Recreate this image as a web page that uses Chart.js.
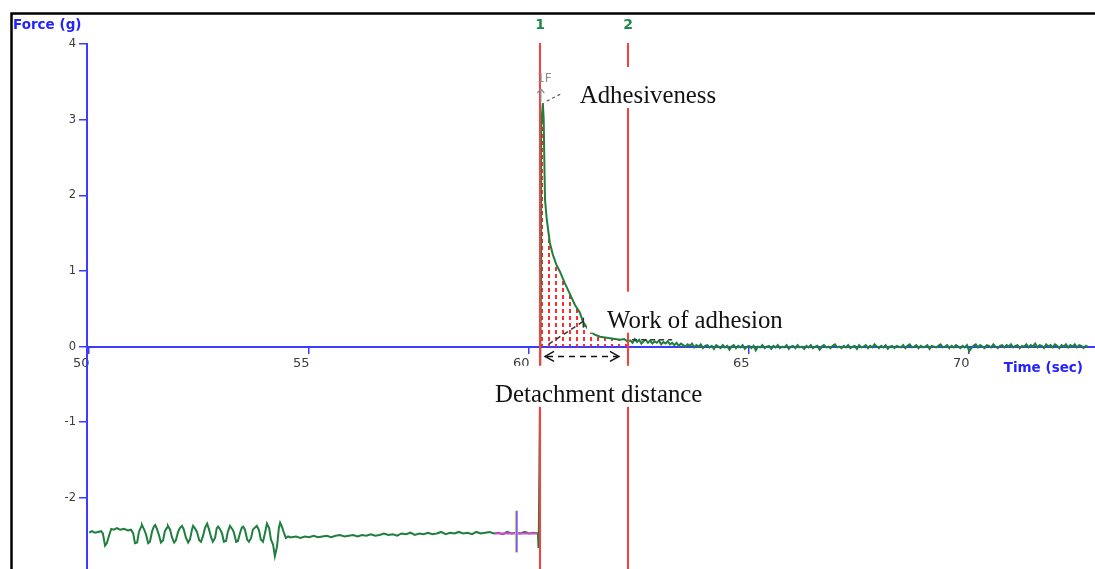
<!DOCTYPE html>
<html>
<head>
<meta charset="utf-8">
<script src="https://cdn.jsdelivr.net/npm/chart.js@4.4.1/dist/chart.umd.min.js"></script>
<style>
  html, body { margin: 0; padding: 0; background: #fff; overflow: hidden; }
  canvas { display: block; }
</style>
</head>
<body>
<canvas id="c" width="1095" height="569"></canvas>
<script>
// Probe tack test: force (g) against time (sec)

// Contact phase with the probe pressing on the sample (irregular vertices)
const oscTimes = [
  50.00, 50.06, 50.13, 50.20, 50.27, 50.31, 50.36, 50.40, 50.45, 50.50,
  50.56, 50.63, 50.70, 50.79, 50.88, 50.95, 51.00, 51.04, 51.09, 51.13,
  51.18, 51.20, 51.25, 51.29, 51.34, 51.38, 51.43, 51.47, 51.50, 51.54,
  51.59, 51.63, 51.68, 51.72, 51.77, 51.79, 51.84, 51.88, 51.93, 51.97,
  52.02, 52.06, 52.11, 52.15, 52.20, 52.25, 52.29, 52.34, 52.36, 52.40,
  52.45, 52.50, 52.54, 52.59, 52.63, 52.68, 52.72, 52.77, 52.81, 52.86,
  52.90, 52.93, 52.97, 53.02, 53.06, 53.11, 53.15, 53.20, 53.25, 53.29,
  53.34, 53.38, 53.43, 53.47, 53.50, 53.54, 53.59, 53.63, 53.68, 53.72,
  53.77, 53.81, 53.86, 53.90, 53.95, 54.00, 54.04, 54.09, 54.13, 54.18,
  54.22, 54.27, 54.31, 54.34, 54.38, 54.43, 54.47, 54.52, 54.56
];
const oscForce = [
  -2.46, -2.44, -2.46, -2.45, -2.44, -2.47, -2.63, -2.60, -2.50, -2.41,
  -2.42, -2.40, -2.42, -2.41, -2.43, -2.42, -2.47, -2.60, -2.59, -2.45,
  -2.38, -2.36, -2.42, -2.48, -2.60, -2.58, -2.44, -2.38, -2.36, -2.41,
  -2.50, -2.59, -2.56, -2.44, -2.39, -2.37, -2.42, -2.52, -2.59, -2.56,
  -2.45, -2.40, -2.37, -2.42, -2.53, -2.59, -2.55, -2.41, -2.37, -2.40,
  -2.45, -2.56, -2.58, -2.50, -2.40, -2.34, -2.41, -2.52, -2.58, -2.53,
  -2.40, -2.38, -2.41, -2.47, -2.58, -2.57, -2.45, -2.37, -2.41, -2.46,
  -2.58, -2.57, -2.46, -2.39, -2.38, -2.42, -2.55, -2.58, -2.53, -2.42,
  -2.39, -2.37, -2.43, -2.55, -2.58, -2.45, -2.34, -2.40, -2.55, -2.62,
  -2.77, -2.64, -2.40, -2.33, -2.38, -2.47, -2.53, -2.51, -2.52
];

// Hold phase, sampled every 0.1 s
const holdStart = 54.6;
const holdStep = 0.1;
const holdForce = [
  -2.52, -2.51, -2.53, -2.51, -2.52, -2.50, -2.52, -2.51, -2.50, -2.52,
  -2.50, -2.49, -2.51, -2.50, -2.49, -2.51, -2.49, -2.50, -2.48, -2.50,
  -2.49, -2.47, -2.49, -2.48, -2.50, -2.47, -2.48, -2.46, -2.49, -2.47,
  -2.48, -2.46, -2.48, -2.47, -2.45, -2.48, -2.46, -2.47, -2.45, -2.47,
  -2.46, -2.48, -2.45, -2.47, -2.46, -2.45, -2.47, -2.46, -2.48, -2.45,
  -2.47, -2.46, -2.47, -2.45, -2.47, -2.46, -2.47
];

// Withdrawal: peak and decay of the adhesive force
const releaseTimes = [
  60.21, 60.22, 60.27, 60.27, 60.31, 60.33, 60.34, 60.36, 60.40, 60.47,
  60.54, 60.62, 60.70, 60.81, 60.93, 61.04, 61.15, 61.22, 61.35, 61.48,
  61.61, 61.72, 61.84, 61.95, 62.07, 62.16, 62.23
];
const releaseForce = [
  -2.65, -2.40, 1.00, 2.90, 3.22, 3.00, 2.60, 1.94, 1.68, 1.37,
  1.21, 1.08, 0.99, 0.84, 0.69, 0.55, 0.45, 0.33, 0.22, 0.16,
  0.13, 0.12, 0.11, 0.10, 0.09, 0.10, 0.07
];

// Residual signal after detachment, sampled every 0.05 s
const tailStart = 62.3;
const tailStep = 0.05;
const tailForce = [
  0.08, 0.05, 0.10, 0.06, 0.09, 0.04, 0.07, 0.09, 0.05, 0.08,
  0.04, 0.07, 0.05, 0.08, 0.03, 0.06, 0.04, 0.07, 0.03, 0.05,
  0.02, 0.05, 0.01, 0.04, 0.02, 0.00, 0.03, 0.01, 0.04, -0.01,
  0.02, 0.00, 0.03, -0.02, 0.01, 0.02, -0.01, 0.01, -0.03, 0.02,
  0.00, -0.02, 0.02, -0.01, 0.01, -0.04, 0.00, 0.02, -0.02, 0.01,
  -0.01, 0.02, -0.03, 0.00, 0.01, -0.02, 0.01, -0.05, 0.00, -0.01,
  0.02, -0.02, 0.00, 0.01, -0.03, 0.01, -0.01, 0.02, -0.02, 0.00,
  -0.01, 0.02, -0.03, 0.00, 0.01, -0.02, 0.02, -0.01, 0.00, -0.03,
  0.01, -0.01, 0.02, -0.02, 0.00, 0.01, -0.04, 0.00, 0.02, -0.01,
  0.00, -0.02, 0.01, 0.03, -0.01, 0.00, -0.02, 0.01, -0.01, 0.02,
  -0.02, 0.00, 0.01, -0.03, 0.02, -0.01, 0.00, 0.02, -0.02, 0.01,
  -0.01, 0.03, 0.00, -0.02, 0.01, -0.01, 0.02, -0.03, 0.00, 0.01,
  -0.02, 0.01, 0.00, -0.01, 0.02, -0.02, 0.01, 0.03, -0.01, 0.00,
  0.02, -0.02, 0.01, -0.01, 0.00, 0.02, -0.03, 0.01, 0.00, -0.01,
  0.01, 0.03, -0.01, 0.00, 0.02, -0.02, 0.01, -0.01, 0.02, 0.00,
  -0.02, 0.01, -0.01, 0.02, -0.06, -0.02, 0.01, 0.03, -0.01, 0.02,
  0.00, -0.02, 0.02, 0.01, -0.01, 0.03, 0.00, -0.02, 0.01, 0.02,
  -0.01, 0.02, 0.00, 0.03, -0.01, 0.01, 0.02, -0.02, 0.01, 0.00,
  0.03, -0.01, 0.02, 0.00, 0.04, -0.01, 0.02, 0.01, -0.02, 0.03,
  0.00, 0.02, -0.01, 0.03, 0.01, -0.02, 0.02, 0.00, 0.03, -0.01,
  0.02, 0.00, 0.03, -0.01, 0.02, 0.01, -0.02, 0.01, 0.00
];

// Cursors bounding the work-of-adhesion area
const cursorTimes = [60.24, 62.24];
const cursorLabels = ['1', '2'];

// Crosshair cursor on the hold segment: time span, centre, force span
const crossTimes = [59.22, 59.70, 60.18];
const crossForces = [-2.17, -2.46, -2.72];

// Axes
const xTicks = [50, 55, 60, 65, 70];
const yTicks = [4, 3, 2, 1, 0, -1, -2];
const xRange = [49.95, 72.86];
const yRange = [-2.94, 4];
const xTitle = 'Time (sec)';
const yTitle = 'Force (g)';

// Annotation texts, anchored in data units (time, force)
const notes = [
  { text: 'Adhesiveness', t: 61.15, f: 3.22, align: 'left', padLeft: 7 },
  { text: 'Work of adhesion', t: 61.77, f: 0.25, align: 'left', padLeft: 20 },
  { text: 'Detachment distance', t: 61.58, f: -0.73, align: 'center', padLeft: 7 }
];
const distanceArrow = { from: 60.36, to: 62.04, f: -0.13 };
const workLeader = { from: [61.22, 0.33], to: [60.36, 0.0] };
const tailMarks = { from: 62.34, to: 63.25, f: 0.09 };
const peakLabel = '1F';

const seq = (start, step, values) => values.map((v, i) => ({ x: +(start + i * step).toFixed(3), y: v }));
const pairs = (ts, vs) => ts.map((t, i) => ({ x: t, y: vs[i] }));

const trace = [
  ...pairs(oscTimes, oscForce),
  ...seq(holdStart, holdStep, holdForce),
  ...pairs(releaseTimes, releaseForce),
  ...seq(tailStart, tailStep, tailForce)
];
const workArea = trace.filter(p => p.x >= cursorTimes[0] && p.x <= cursorTimes[1]);

const canvas = document.getElementById('c');
const mainCtx = canvas.getContext('2d');

// Red dotted hatch for the integrated area
function makeHatch() {
  const tile = document.createElement('canvas');
  tile.width = 7; tile.height = 7;
  const g = tile.getContext('2d');
  g.fillStyle = '#ff2d2d';
  g.fillRect(2, 1, 2, 4);
  return mainCtx.createPattern(tile, 'repeat');
}

const GREEN = '#1e7f3e';
const BLUE = '#3c3cff';
const RED = '#ff3c3c';
const SERIF = '"Liberation Serif", "Times New Roman", serif';
const SANS = '"DejaVu Sans", sans-serif';

const overlay = {
  id: 'overlay',
  beforeDraw(chart) {
    const { ctx, width, height } = chart;
    ctx.save();
    ctx.fillStyle = '#fff';
    ctx.fillRect(0, 0, width, height);
    ctx.restore();
  },
  afterDatasetsDraw(chart) {
    const { ctx, chartArea: a, scales: { x, y } } = chart;
    const px = t => x.getPixelForValue(t);
    const py = f => y.getPixelForValue(f);
    ctx.save();

    // crosshair cursor
    const cx = Math.round(px(crossTimes[1])) + 0.5;
    const cy = Math.round(py(crossForces[1])) + 0.5;
    ctx.lineWidth = 2;
    ctx.strokeStyle = '#e048d8';
    ctx.beginPath(); ctx.moveTo(px(crossTimes[0]), cy); ctx.lineTo(px(crossTimes[2]), cy); ctx.stroke();
    ctx.lineWidth = 1;
    ctx.strokeStyle = '#e8e040';
    ctx.beginPath(); ctx.moveTo(cx - 1, py(crossForces[0])); ctx.lineTo(cx - 1, py(crossForces[2])); ctx.stroke();
    ctx.strokeStyle = '#40d0e8';
    ctx.beginPath(); ctx.moveTo(cx + 1, py(crossForces[0])); ctx.lineTo(cx + 1, py(crossForces[2])); ctx.stroke();
    ctx.strokeStyle = '#b040ff';
    ctx.lineWidth = 1.5;
    ctx.beginPath(); ctx.moveTo(cx, py(crossForces[0])); ctx.lineTo(cx, py(crossForces[2])); ctx.stroke();

    // cursor lines and their numbers
    ctx.strokeStyle = RED;
    ctx.lineWidth = 2;
    ctx.font = 'bold 14px ' + SANS;
    ctx.textAlign = 'center';
    ctx.textBaseline = 'middle';
    cursorTimes.forEach((t, i) => {
      const X = Math.round(px(t));
      ctx.beginPath(); ctx.moveTo(X, a.top - 1); ctx.lineTo(X, a.bottom); ctx.stroke();
      ctx.fillStyle = '#1d8a4a';
      ctx.fillText(cursorLabels[i], X, 25);
    });

    // peak marker
    let k = 0;
    releaseForce.forEach((v, i) => { if (v > releaseForce[k]) k = i; });
    const pkx = px(releaseTimes[k]), pky = py(releaseForce[k]);
    ctx.fillStyle = '#8c8c8c';
    ctx.font = '12px ' + SANS;
    ctx.fillText(peakLabel, pkx + 1.5, pky - 24);
    ctx.strokeStyle = '#8c8c8c';
    ctx.lineWidth = 1.2;
    ctx.beginPath();
    ctx.moveTo(pkx - 2, pky - 1); ctx.lineTo(pkx - 2, pky - 14);
    ctx.moveTo(pkx - 5.5, pky - 10); ctx.lineTo(pkx - 2, pky - 14); ctx.lineTo(pkx + 1.5, pky - 10);
    ctx.stroke();
    ctx.strokeStyle = '#555';
    ctx.setLineDash([3, 3]);
    ctx.beginPath(); ctx.moveTo(pkx + 4, pky - 2); ctx.lineTo(pkx + 18, pky - 9); ctx.stroke();

    // leader from the work label towards the hatched area
    ctx.strokeStyle = '#333';
    ctx.lineWidth = 1.5;
    ctx.setLineDash([5, 4]);
    ctx.beginPath();
    ctx.moveTo(px(workLeader.from[0]), py(workLeader.from[1]));
    ctx.lineTo(px(workLeader.to[0]), py(workLeader.to[1]));
    ctx.stroke();
    ctx.beginPath();
    ctx.moveTo(px(tailMarks.from), py(tailMarks.f));
    ctx.lineTo(px(tailMarks.to), py(tailMarks.f));
    ctx.stroke();
    ctx.setLineDash([]);
    ctx.beginPath();
    ctx.moveTo(px(workLeader.from[0]) + 0.5, py(workLeader.from[1]) - 4);
    ctx.lineTo(px(workLeader.from[0]) + 0.5, py(workLeader.from[1]) + 6);
    ctx.stroke();

    // detachment distance double arrow
    const ax1 = px(distanceArrow.from), ax2 = px(distanceArrow.to), ay = py(distanceArrow.f);
    ctx.strokeStyle = '#111';
    ctx.lineWidth = 1.5;
    ctx.setLineDash([6, 5]);
    ctx.beginPath(); ctx.moveTo(ax1 + 2, ay); ctx.lineTo(ax2 - 2, ay); ctx.stroke();
    ctx.setLineDash([]);
    ctx.beginPath();
    ctx.moveTo(ax1 + 9, ay - 5); ctx.lineTo(ax1, ay); ctx.lineTo(ax1 + 9, ay + 5);
    ctx.moveTo(ax2 - 9, ay - 5); ctx.lineTo(ax2, ay); ctx.lineTo(ax2 - 9, ay + 5);
    ctx.stroke();

    // annotation texts on white boxes
    ctx.font = '24.8px ' + SERIF;
    ctx.textBaseline = 'alphabetic';
    notes.forEach(n => {
      const w = ctx.measureText(n.text).width;
      const bx = px(n.t), by = py(n.f);
      const left = n.align === 'center' ? bx - w / 2 : bx;
      ctx.fillStyle = '#fff';
      ctx.fillRect(left - n.padLeft, by - 36, w + n.padLeft + 7, 41);
      ctx.fillStyle = '#111';
      ctx.textAlign = 'left';
      ctx.fillText(n.text, left, by);
    });
    ctx.restore();
  },
  afterDraw(chart) {
    const { ctx, chartArea: a, scales: { y } } = chart;
    ctx.save();
    // outer frame
    ctx.strokeStyle = '#000';
    ctx.lineWidth = 2.5;
    ctx.beginPath();
    ctx.moveTo(11.5, chart.height); ctx.lineTo(11.5, 13.5); ctx.lineTo(chart.width, 13.5);
    ctx.stroke();
    // axis titles
    ctx.fillStyle = '#2323ff';
    ctx.font = 'bold 13.5px ' + SANS;
    ctx.textBaseline = 'middle';
    ctx.textAlign = 'left';
    ctx.fillText(yTitle, 13, 25);
    ctx.textAlign = 'right';
    ctx.fillText(xTitle, a.right - 12, y.getPixelForValue(0) + 22);
    ctx.restore();
  }
};

new Chart(canvas, {
  type: 'line',
  data: {
    datasets: [
      {
        data: trace,
        borderColor: GREEN,
        borderWidth: 2,
        pointRadius: 0,
        tension: 0,
        fill: false
      },
      {
        data: workArea,
        borderWidth: 0,
        borderColor: 'rgba(0,0,0,0)',
        backgroundColor: makeHatch(),
        pointRadius: 0,
        tension: 0,
        fill: 'origin'
      }
    ]
  },
  options: {
    responsive: false,
    animation: false,
    devicePixelRatio: 1,
    layout: { padding: { top: 44, left: 0, right: 0, bottom: 0 } },
    plugins: { legend: { display: false }, tooltip: { enabled: false } },
    scales: {
      x: {
        type: 'linear',
        min: xRange[0],
        max: xRange[1],
        position: { y: 0 },
        afterBuildTicks: s => { s.ticks = xTicks.map(v => ({ value: v })); },
        afterFit: s => { s.paddingLeft = 0; s.paddingRight = 0; },
        grid: { drawOnChartArea: false, drawTicks: true, tickLength: 6, color: BLUE, lineWidth: 1.5 },
        border: { display: true, color: BLUE, width: 2 },
        ticks: {
          font: { family: 'DejaVu Sans', size: 13 },
          color: '#3b3b3b',
          padding: 3,
          labelOffset: -8,
          maxRotation: 0,
          autoSkip: false
        }
      },
      y: {
        type: 'linear',
        min: yRange[0],
        max: yRange[1],
        position: 'left',
        afterBuildTicks: s => { s.ticks = yTicks.map(v => ({ value: v })); },
        afterFit: s => { s.width = 87; s.paddingTop = 0; s.paddingBottom = 0; },
        grid: { drawOnChartArea: false, drawTicks: true, tickLength: 8, color: BLUE, lineWidth: 1.5 },
        border: { display: true, color: BLUE, width: 2 },
        ticks: {
          font: { family: 'DejaVu Sans', size: 11.5 },
          color: '#3b3b3b',
          padding: 3
        }
      }
    }
  },
  plugins: [overlay]
});
</script>
</body>
</html>
